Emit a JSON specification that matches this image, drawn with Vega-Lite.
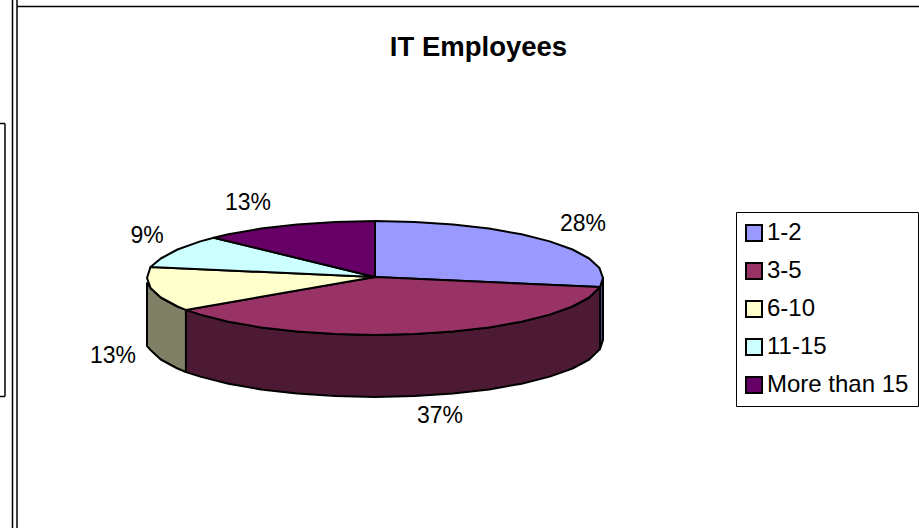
{"$schema":"https://vega.github.io/schema/vega-lite/v6.json","width":919,"height":528,"padding":0,"autosize":{"type":"none"},"background":"white","title":{"text":"IT Employees","offset":-62,"dx":19,"fontSize":27.5,"font":"Liberation Sans","fontWeight":"bold","color":"#000"},"datasets":{"side":[{"slice":"1-2","seq":1,"x":600,"y":287},{"slice":"1-2","seq":2,"x":603,"y":278},{"slice":"1-2","seq":3,"x":603,"y":340},{"slice":"1-2","seq":4,"x":600,"y":349},{"slice":"1-2","seq":5,"x":600,"y":287},{"slice":"3-5","seq":1,"x":600,"y":287},{"slice":"3-5","seq":2,"x":589.2,"y":297.5},{"slice":"3-5","seq":3,"x":572.5,"y":306.5},{"slice":"3-5","seq":4,"x":549.7,"y":314.6},{"slice":"3-5","seq":5,"x":521.6,"y":321.7},{"slice":"3-5","seq":6,"x":489,"y":327.4},{"slice":"3-5","seq":7,"x":453,"y":331.6},{"slice":"3-5","seq":8,"x":414.6,"y":334.1},{"slice":"3-5","seq":9,"x":375,"y":335},{"slice":"3-5","seq":10,"x":335.4,"y":334.1},{"slice":"3-5","seq":11,"x":297,"y":331.6},{"slice":"3-5","seq":12,"x":261,"y":327.4},{"slice":"3-5","seq":13,"x":228.4,"y":321.7},{"slice":"3-5","seq":14,"x":200.3,"y":314.6},{"slice":"3-5","seq":15,"x":185.9,"y":309.9},{"slice":"3-5","seq":16,"x":185.9,"y":372},{"slice":"3-5","seq":17,"x":200.3,"y":376.6},{"slice":"3-5","seq":18,"x":228.4,"y":383.7},{"slice":"3-5","seq":19,"x":261,"y":389.4},{"slice":"3-5","seq":20,"x":297,"y":393.6},{"slice":"3-5","seq":21,"x":335.4,"y":396.1},{"slice":"3-5","seq":22,"x":375,"y":397},{"slice":"3-5","seq":23,"x":414.6,"y":396.1},{"slice":"3-5","seq":24,"x":453,"y":393.6},{"slice":"3-5","seq":25,"x":489,"y":389.4},{"slice":"3-5","seq":26,"x":521.6,"y":383.7},{"slice":"3-5","seq":27,"x":549.7,"y":376.6},{"slice":"3-5","seq":28,"x":572.5,"y":368.5},{"slice":"3-5","seq":29,"x":589.2,"y":359.5},{"slice":"3-5","seq":30,"x":600,"y":349},{"slice":"3-5","seq":31,"x":600,"y":287},{"slice":"6-10","seq":1,"x":185.9,"y":309.9},{"slice":"6-10","seq":2,"x":177.5,"y":306.5},{"slice":"6-10","seq":3,"x":160.8,"y":297.5},{"slice":"6-10","seq":4,"x":150.5,"y":287.9},{"slice":"6-10","seq":5,"x":147,"y":283},{"slice":"6-10","seq":6,"x":147,"y":346},{"slice":"6-10","seq":7,"x":150.5,"y":349.9},{"slice":"6-10","seq":8,"x":160.8,"y":359.5},{"slice":"6-10","seq":9,"x":177.5,"y":368.5},{"slice":"6-10","seq":10,"x":185.9,"y":372},{"slice":"6-10","seq":11,"x":185.9,"y":309.9}],"top":[{"slice":"1-2","seq":1,"x":375,"y":277},{"slice":"1-2","seq":2,"x":375,"y":221},{"slice":"1-2","seq":3,"x":414.6,"y":221.9},{"slice":"1-2","seq":4,"x":453,"y":224.4},{"slice":"1-2","seq":5,"x":489,"y":228.6},{"slice":"1-2","seq":6,"x":521.6,"y":234.3},{"slice":"1-2","seq":7,"x":549.7,"y":241.4},{"slice":"1-2","seq":8,"x":572.5,"y":249.5},{"slice":"1-2","seq":9,"x":589.2,"y":258.5},{"slice":"1-2","seq":10,"x":599.5,"y":268.1},{"slice":"1-2","seq":11,"x":603,"y":278},{"slice":"1-2","seq":12,"x":600,"y":287},{"slice":"1-2","seq":13,"x":375,"y":277},{"slice":"3-5","seq":1,"x":375,"y":277},{"slice":"3-5","seq":2,"x":600,"y":287},{"slice":"3-5","seq":3,"x":589.2,"y":297.5},{"slice":"3-5","seq":4,"x":572.5,"y":306.5},{"slice":"3-5","seq":5,"x":549.7,"y":314.6},{"slice":"3-5","seq":6,"x":521.6,"y":321.7},{"slice":"3-5","seq":7,"x":489,"y":327.4},{"slice":"3-5","seq":8,"x":453,"y":331.6},{"slice":"3-5","seq":9,"x":414.6,"y":334.1},{"slice":"3-5","seq":10,"x":375,"y":335},{"slice":"3-5","seq":11,"x":335.4,"y":334.1},{"slice":"3-5","seq":12,"x":297,"y":331.6},{"slice":"3-5","seq":13,"x":261,"y":327.4},{"slice":"3-5","seq":14,"x":228.4,"y":321.7},{"slice":"3-5","seq":15,"x":200.3,"y":314.6},{"slice":"3-5","seq":16,"x":185.9,"y":309.9},{"slice":"3-5","seq":17,"x":375,"y":277},{"slice":"6-10","seq":1,"x":375,"y":277},{"slice":"6-10","seq":2,"x":185.9,"y":309.9},{"slice":"6-10","seq":3,"x":177.5,"y":306.5},{"slice":"6-10","seq":4,"x":160.8,"y":297.5},{"slice":"6-10","seq":5,"x":150.5,"y":287.9},{"slice":"6-10","seq":6,"x":147,"y":278},{"slice":"6-10","seq":7,"x":150.5,"y":267},{"slice":"6-10","seq":8,"x":375,"y":277},{"slice":"11-15","seq":1,"x":375,"y":277},{"slice":"11-15","seq":2,"x":150.5,"y":267},{"slice":"11-15","seq":3,"x":160.8,"y":258.5},{"slice":"11-15","seq":4,"x":177.5,"y":249.5},{"slice":"11-15","seq":5,"x":200.3,"y":241.4},{"slice":"11-15","seq":6,"x":213.8,"y":237.7},{"slice":"11-15","seq":7,"x":375,"y":277},{"slice":"More than 15","seq":1,"x":375,"y":277},{"slice":"More than 15","seq":2,"x":213.8,"y":237.7},{"slice":"More than 15","seq":3,"x":228.4,"y":234.3},{"slice":"More than 15","seq":4,"x":261,"y":228.6},{"slice":"More than 15","seq":5,"x":297,"y":224.4},{"slice":"More than 15","seq":6,"x":335.4,"y":221.9},{"slice":"More than 15","seq":7,"x":375,"y":221},{"slice":"More than 15","seq":8,"x":375,"y":277}],"labels":[{"label":"28%","x":583,"y":224},{"label":"37%","x":440,"y":416},{"label":"13%","x":113,"y":356},{"label":"9%","x":147,"y":236},{"label":"13%","x":248,"y":203}],"frame":[{"x":12.5,"x2":12.5,"y":0,"y2":528},{"x":17,"x2":17,"y":0,"y2":528},{"x":17,"x2":919,"y":6.5,"y2":6.5},{"x":0,"x2":5,"y":123.5,"y2":123.5},{"x":0,"x2":5,"y":396.5,"y2":396.5},{"x":5,"x2":5,"y":123.5,"y2":396.5}]},"layer":[{"data":{"name":"frame"},"mark":{"type":"rule","color":"#000","strokeWidth":1.5},"encoding":{"x":{"field":"x","type":"quantitative","scale":{"domain":[0,919],"nice":false,"zero":false},"axis":null},"x2":{"field":"x2"},"y":{"field":"y","type":"quantitative","scale":{"domain":[528,0],"nice":false,"zero":false},"axis":null},"y2":{"field":"y2"}}},{"data":{"name":"side"},"mark":{"type":"line","stroke":"#000","strokeWidth":2,"strokeJoin":"round","clip":false},"encoding":{"x":{"field":"x","type":"quantitative","axis":null},"y":{"field":"y","type":"quantitative","axis":null},"order":{"field":"seq","type":"quantitative"},"fill":{"field":"slice","type":"nominal","legend":null,"scale":{"domain":["1-2","3-5","6-10"],"range":["#4d4d80","#4d1a33","#808066"]}}}},{"data":{"name":"top"},"mark":{"type":"line","stroke":"#000","strokeWidth":2,"strokeJoin":"round"},"encoding":{"x":{"field":"x","type":"quantitative","axis":null},"y":{"field":"y","type":"quantitative","axis":null},"order":{"field":"seq","type":"quantitative"},"fill":{"field":"slice","type":"nominal","scale":{"domain":["1-2","3-5","6-10","11-15","More than 15"],"range":["#9999ff","#993366","#ffffcc","#ccffff","#660066"]},"legend":{"title":null,"orient":"none","legendX":736,"legendY":212,"direction":"vertical","symbolType":"square","symbolSize":256,"symbolOffset":-3,"symbolStrokeColor":"#000","symbolStrokeWidth":2,"symbolOpacity":1,"labelFont":"Liberation Sans","labelFontSize":24,"labelColor":"#000","labelOffset":1,"labelLimit":200,"rowPadding":14,"padding":9,"strokeColor":"#000","fillColor":"#fff"}}}},{"data":{"name":"labels"},"mark":{"type":"text","font":"Liberation Sans","fontSize":23,"color":"#000","align":"center","baseline":"middle"},"encoding":{"x":{"field":"x","type":"quantitative","axis":null},"y":{"field":"y","type":"quantitative","axis":null},"text":{"field":"label","type":"nominal"}}}],"resolve":{"scale":{"fill":"independent"}},"config":{"view":{"stroke":null}}}
